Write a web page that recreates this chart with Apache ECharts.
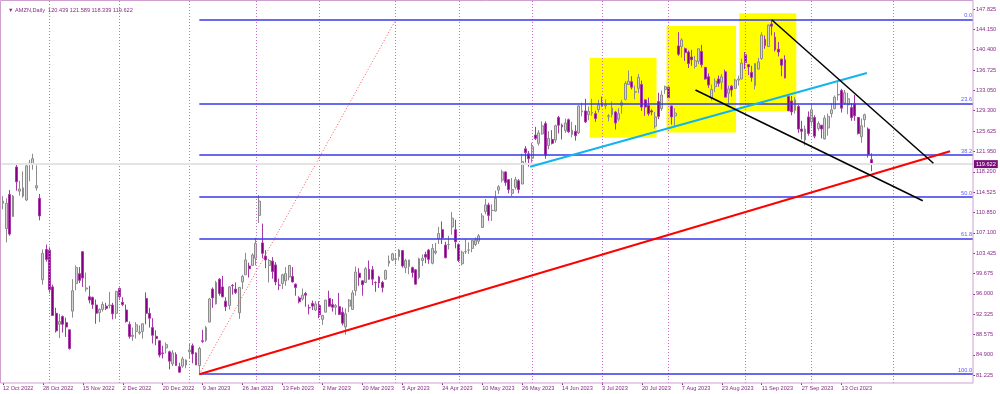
<!DOCTYPE html>
<html><head><meta charset="utf-8">
<script src="https://cdn.jsdelivr.net/npm/echarts@6/dist/echarts.min.js"></script>
<style>html,body{margin:0;padding:0;background:#fff}#c{width:1000px;height:394px}</style>
</head><body><div id="c"></div>
<script>
// ---- tick labels ----
const yLabels = ['81.225','84.900','88.575','92.325','96.000','99.675','103.425','107.100','110.850','114.525','118.200','121.950','125.625','129.300','133.050','136.725','140.400','144.150','147.825'];
const dateLabels = ['12 Oct 2022','28 Oct 2022','15 Nov 2022','2 Dec 2022','20 Dec 2022','9 Jan 2023','26 Jan 2023','13 Feb 2023','2 Mar 2023','20 Mar 2023','5 Apr 2023','24 Apr 2023','10 May 2023','26 May 2023','14 Jun 2023','3 Jul 2023','20 Jul 2023','7 Aug 2023','23 Aug 2023','11 Sep 2023','27 Sep 2023','13 Oct 2023'];

// ---- daily candles [open, high, low, close] ----
const oct22 = [[112.5,113.8,111.4,112.9],[107.9,113.4,105.4,112.5],[114.1,114.9,106.6,106.9],[110.1,114.0,110.0,113.8],[119.1,119.5,114.8,116.4],[114.7,116.6,113.9,115.1],[113.8,118.3,113.5,115.3],[113.1,119.6,112.9,119.3],[119.6,120.4,116.5,119.8],[119.6,121.5,118.6,120.6],[115.3,119.4,114.8,115.7],[113.4,114.2,109.4,110.2],[98.6,104.1,97.7,103.4],[104.1,105.0,101.9,102.3]];
const nov22 = [[104.0,104.6,96.1,96.8],[97.3,97.7,92.0,92.1],[92.5,93.5,89.0,89.3],[90.5,92.4,88.0,91.0],[91.9,92.1,89.0,90.5],[90.8,91.7,88.2,90.0],[89.5,89.5,85.9,86.1],[92.9,98.7,91.7,96.6],[97.9,101.2,96.7,100.8],[99.7,100.9,98.0,98.5],[103.7,103.8,97.3,98.9],[96.9,99.9,96.4,97.1],[95.5,97.5,94.3,94.9],[95.4,95.5,93.3,94.1],[94.0,95.0,90.6,92.5],[92.6,93.4,90.9,93.2],[93.2,94.6,92.8,94.1],[93.8,94.4,93.1,93.4],[93.9,96.4,93.4,94.0],[94.0,94.4,91.4,92.4],[92.5,96.5,91.5,96.5]];
const dec22 = [[97.0,97.2,94.9,95.5],[94.5,95.4,93.8,94.1],[93.1,94.1,90.8,91.0],[90.5,91.0,87.9,88.3],[88.3,89.9,87.5,88.5],[89.2,90.9,87.9,90.4],[88.9,90.3,88.6,89.1],[89.2,90.6,87.9,90.6],[95.2,96.3,90.5,92.5],[92.5,93.5,89.9,91.6],[89.9,91.6,87.0,88.5],[88.3,89.4,86.7,87.9],[87.5,87.6,84.5,84.9],[85.3,86.6,84.3,85.2],[86.2,87.2,85.2,86.8],[85.5,85.7,82.3,83.8],[83.3,85.8,82.9,85.3],[85.0,85.4,83.0,83.0],[82.8,83.5,81.7,81.8],[82.9,84.6,82.6,84.2],[83.1,84.1,82.5,84.0]];
const jan23 = [[85.5,87.0,84.2,85.8],[86.6,87.0,83.4,85.1],[85.3,85.4,83.1,83.1],[83.0,86.4,81.43,86.1],[87.5,89.5,87.1,87.4],[87.6,90.2,87.3,89.9],[90.9,95.3,90.9,95.1],[96.9,97.2,93.5,95.3],[94.2,98.4,94.1,98.1],[98.7,98.9,95.7,96.1],[97.3,99.3,95.4,95.5],[94.7,95.4,92.9,93.7],[93.9,97.4,93.2,97.3],[97.6,97.8,95.9,97.5],[96.9,98.1,96.0,96.3],[92.6,97.2,91.5,97.2],[98.2,99.5,96.9,99.2],[99.5,103.5,99.5,102.2],[101.1,101.7,99.0,100.6],[101.2,103.4,101.1,103.1]];
const feb23 = [[102.5,106.2,101.2,105.2],[110.3,114.0,108.9,112.9],[105.3,108.8,102.5,103.4],[102.9,104.0,100.7,102.2],[101.2,102.4,98.1,102.1],[102.0,102.7,98.8,100.1],[101.3,101.8,97.6,98.2],[97.6,98.8,96.7,97.6],[97.9,99.7,96.9,99.5],[98.4,100.9,97.5,99.7],[99.1,101.2,98.5,101.2],[99.2,100.9,98.1,98.2],[97.8,97.9,95.7,97.2],[95.3,95.6,94.3,94.6],[95.1,97.0,94.8,95.8],[96.1,96.4,93.7,95.8],[93.5,94.1,92.3,93.5],[94.3,94.8,93.1,93.8],[93.1,94.7,92.9,94.2]];
const mar23 = [[93.9,94.7,91.6,92.2],[91.4,92.2,90.4,92.1],[92.7,94.9,92.7,94.9],[95.2,96.6,93.7,93.8],[94.1,95.1,92.8,93.6],[93.6,94.2,92.2,93.9],[93.7,96.2,92.2,92.3],[92.7,93.6,90.3,90.7],[90.0,93.4,88.6,92.4],[93.8,95.1,92.7,94.9],[93.2,96.7,93.1,96.2],[96.6,101.0,95.7,100.0],[99.8,100.7,97.5,99.0],[98.4,98.5,95.7,97.7],[98.1,100.9,98.0,100.6],[100.5,102.1,98.6,98.7],[100.4,101.1,97.6,98.7],[98.1,98.3,96.4,98.1],[99.1,99.3,97.1,98.0],[98.1,98.4,96.3,97.2],[98.7,100.4,98.6,100.3],[101.6,103.0,101.0,102.0],[102.2,103.5,102.0,103.3]];
const apr23 = [[102.3,103.3,101.4,102.4],[102.8,104.2,102.1,104.0],[103.9,103.9,100.8,101.1],[100.8,102.4,99.8,102.1],[101.0,102.2,99.6,102.2],[100.8,101.0,99.0,99.9],[100.4,100.5,97.7,97.8],[99.0,102.6,98.7,102.4],[102.1,103.2,101.1,102.5],[103.2,103.7,101.6,102.7],[104.0,104.2,101.5,102.3],[101.6,105.1,101.4,104.3],[103.5,105.3,103.2,103.8],[106.1,108.2,105.1,107.0],[107.7,109.2,105.1,106.2],[104.9,105.5,102.5,102.6],[105.0,106.6,104.1,105.0],[108.2,110.9,106.8,109.8],[107.7,109.5,104.3,105.5]];
const may23 = [[105.0,105.2,101.8,102.1],[101.5,103.9,101.2,103.6],[103.7,106.0,103.3,103.7],[104.0,105.4,103.3,104.0],[104.3,105.8,103.6,105.7],[105.0,106.3,104.7,105.8],[105.6,106.9,105.1,106.6],[108.1,110.7,108.1,110.2],[111.0,113.3,110.5,112.2],[112.2,112.6,109.3,110.3],[111.2,112.3,109.3,111.2],[111.1,114.8,111.0,113.4],[114.9,115.8,114.2,115.5],[116.7,118.6,116.3,118.2],[118.2,118.3,115.7,116.3],[116.8,116.8,114.3,115.0],[114.3,117.1,113.8,115.0],[115.4,117.3,115.0,116.8],[116.6,116.9,114.3,115.0],[116.0,121.5,116.0,120.1],[122.4,122.9,119.9,121.7],[121.5,122.0,119.17,120.6]];
const jun23 = [[120.7,123.5,119.9,122.8],[124.9,126.4,124.0,124.3],[123.4,125.8,123.0,125.3],[125.1,127.4,125.0,126.6],[127.0,127.4,120.6,121.2],[123.0,125.6,122.3,124.3],[124.1,125.8,123.2,123.4],[124.0,126.8,123.5,126.6],[128.1,128.4,125.2,126.7],[126.7,127.0,124.1,126.4],[125.7,127.9,125.3,127.1],[127.7,127.9,125.3,125.5],[125.0,127.3,124.5,125.8],[125.6,126.7,123.9,124.8],[125.3,130.3,125.1,130.2],[129.1,130.8,128.3,129.3],[129.3,131.5,127.1,127.3],[128.6,130.1,127.6,129.2],[128.9,131.5,128.4,129.0],[128.8,129.3,127.3,127.9],[129.5,131.3,129.0,130.4]];
const jul23 = [[130.8,131.9,130.1,130.2],[130.2,131.4,129.6,130.4],[128.3,128.7,127.4,128.4],[128.6,131.0,128.1,129.8],[129.1,129.3,125.9,127.1],[127.8,129.8,127.4,128.8],[130.3,131.3,128.8,130.8],[131.4,134.7,131.2,134.3],[134.1,136.65,134.1,134.7],[134.6,135.6,133.2,133.6],[132.7,133.9,131.4,132.8],[133.4,136.0,132.5,135.4],[134.1,134.8,129.3,130.0],[131.3,131.4,128.4,130.0],[130.3,131.7,128.4,128.8],[129.3,129.6,128.5,129.1],[126.5,129.1,126.1,128.2],[131.0,132.6,127.8,128.3],[129.7,133.0,129.3,132.2],[133.2,133.9,132.4,133.7]];
const aug23 = [[133.6,133.7,131.6,131.7],[130.2,130.2,126.8,128.2],[128.4,129.8,126.4,128.9],[141.1,143.6,139.3,139.6],[141.0,142.5,139.0,142.2],[140.6,140.8,138.4,139.9],[140.0,140.3,137.1,137.9],[139.1,140.4,137.5,138.6],[137.4,139.3,137.0,138.4],[138.3,140.6,137.8,140.6],[140.1,141.3,137.2,137.7],[137.2,137.3,135.0,135.1],[135.5,136.1,133.5,134.0],[131.6,134.1,131.2,133.2],[133.7,135.2,132.7,134.7],[135.1,135.7,133.7,134.3],[134.5,136.0,133.2,135.5],[136.4,136.8,131.8,131.8],[132.5,133.9,130.6,133.3],[133.8,134.0,131.9,133.1],[133.4,135.1,133.3,134.9],[134.9,135.7,133.9,135.1],[135.1,138.8,135.0,138.0]];
const sep23 = [[139.5,140.0,136.9,138.1],[137.7,137.8,135.8,137.3],[136.3,137.5,134.6,135.4],[133.9,138.0,133.2,137.9],[136.9,138.9,136.8,138.2],[138.8,143.6,138.6,143.1],[142.3,143.0,140.6,141.2],[141.0,145.0,140.9,144.9],[145.1,145.86,143.0,144.7],[142.7,143.6,140.1,140.4],[140.5,141.8,139.2,140.0],[138.7,138.8,135.6,137.6],[138.6,139.4,135.2,135.3],[131.9,132.2,129.3,129.3],[131.1,132.0,128.5,129.1],[129.4,131.8,128.8,131.3],[130.1,130.4,125.3,126.0],[126.0,127.5,124.1,125.6],[124.0,126.6,123.0,126.0],[128.2,129.2,124.8,125.2]];
const oct23 = [[127.3,130.5,126.5,129.5],[128.1,128.5,124.3,124.7],[126.1,127.4,125.7,127.0],[126.7,126.7,124.3,126.0],[124.2,128.5,124.1,128.0],[126.2,128.8,124.8,128.3],[128.8,130.7,128.1,129.5],[129.7,132.1,129.6,131.8],[132.2,134.5,131.2,132.3],[133.0,133.3,129.0,129.8],[130.7,133.1,130.4,132.6],[130.4,132.6,128.7,131.5],[129.9,130.7,127.5,128.1],[130.6,132.2,127.5,128.4],[128.1,128.2,125.0,125.2],[124.6,127.9,123.5,126.6],[127.7,128.8,126.3,128.6],[126.0,126.3,120.8,121.4],[120.439,121.589,118.339,119.622]];

// ---- annotations (in bar index / price units) ----
const fibHigh = 145.86, fibLow = 81.43;
const fibRatios = [0, 23.6, 38.2, 50.0, 61.8, 100.0];
const fibStartBar = 59, fibEndBar = 118;
const monthStartBars = [14, 35, 56, 76, 95, 118, 137, 159, 180, 200, 223, 243, 267.5];
const redTrend = [[59, 81.43], [284.6, 121.95]];
const cyanTrend = [[158.4, 119.15], [259.6, 136.2]];
const blackUpper = [[231, 145.86], [279.6, 119.77]];
const blackLower = [[208.1, 133.1], [276.4, 112.97]];
const boxes = [[176.3, 196.4, 138.97, 124.43], [199.4, 220.3, 144.73, 125.37], [221.3, 238.4, 147.04, 129.28]];
const lastPrice = 119.622;

// price scale: labelled range 81.225 .. 147.825 in steps of 3.7
const priceTop = 149.461, priceBottom = 79.825, labelBase = 81.225, labelTop = 147.825, labelStep = 3.7;

const NSLOTS = 292;
const rows = [].concat(oct22, nov22, dec22, jan23, feb23, mar23, apr23, may23, jun23, jul23, aug23, sep23, oct23);
const candleData = rows.map(r => [r[0], r[3], r[2], r[1]]);
const cats = [];
for (let i = 0; i < NSLOTS; i++) cats.push(String(i));

const H = 394, plotBottom = 383, pxPerUnit = plotBottom / (priceTop - priceBottom);
const labelGridTop = (priceTop - labelTop) * pxPerUnit;
const labelGridBottom = H - (plotBottom - (labelBase - priceBottom) * pxPerUnit);

const purple = '#8a2a8a';
const fs = 5.6;
const font = 'Liberation Sans';

const chart = echarts.init(document.getElementById('c'), null, {renderer: 'canvas'});
chart.setOption({
  animation: false,
  backgroundColor: '#ffffff',
  textStyle: {fontFamily: font},
  title: {text: '\u25BC AMZN,Daily  120.439 121.589 118.339 119.622', left: 3, top: 2,
    textStyle: {fontSize: fs, color: purple, fontWeight: 'normal', fontFamily: font}},
  grid: [
    {left: 0, right: 27, top: 0, bottom: H - plotBottom, containLabel: false},
    {left: 972, right: 27, top: labelGridTop, bottom: labelGridBottom, containLabel: false}
  ],
  xAxis: [{
    type: 'category', data: cats, boundaryGap: true, gridIndex: 0,
    axisLine: {show: false, onZero: false},
    axisTick: {show: true, alignWithLabel: true, length: 2, lineStyle: {color: purple},
      interval: (i) => i % 12 === 0 && i <= 252},
    axisLabel: {show: true, fontSize: fs, color: purple, align: 'left', margin: 2, fontFamily: font,
      interval: (i) => i % 12 === 0 && i <= 252,
      formatter: (v, i) => (i % 12 === 0 && i <= 252) ? dateLabels[i / 12] : ''},
    splitLine: {show: false}
  }, {
    type: 'value', min: -0.5, max: NSLOTS - 0.5, show: false, gridIndex: 0, axisLine: {onZero: false}
  }, {
    type: 'value', min: 0, max: 1, show: false, gridIndex: 1, axisLine: {onZero: false}
  }],
  yAxis: [{
    type: 'value', min: priceBottom, max: priceTop, show: false, scale: true, gridIndex: 0, axisLine: {onZero: false}
  }, {
    type: 'value', gridIndex: 1, position: 'right', min: 0, max: labelTop - labelBase, interval: labelStep,
    axisLine: {show: false, onZero: false},
    axisTick: {show: true, length: 2, lineStyle: {color: purple}},
    splitLine: {show: false},
    axisLabel: {fontSize: fs, color: purple, margin: 3, fontFamily: font,
      formatter: (v) => {
        const k = Math.round(v / labelStep);
        if (Math.abs(v - k * labelStep) > 0.01 || k < 0 || k >= yLabels.length) return '';
        return yLabels[k];
      }}
  }],
  graphic: [{
    type: 'rect', z: 100, silent: true,
    shape: {x: 0.5, y: 0.5, width: 972.5, height: 382.5},
    style: {stroke: '#cf9fcf', fill: null, lineWidth: 1}
  }],
  series: [
    {type: 'line', xAxisIndex: 2, yAxisIndex: 1, data: [], silent: true},
    { // yellow boxes + separators + bid line
      type: 'line', xAxisIndex: 1, yAxisIndex: 0, data: [], z: 1, silent: true,
      markArea: {silent: true, itemStyle: {color: '#ffff00', opacity: 1},
        data: boxes.map(b => [{coord: [b[0], b[2]]}, {coord: [b[1], b[3]]}])},
      markLine: {silent: true, symbol: 'none',
        data: monthStartBars.map(x => ({xAxis: x, lineStyle: {color: '#c86ec8', type: [1, 2], width: 1}, label: {show: false}}))
          .concat([{yAxis: lastPrice, lineStyle: {color: '#e4e4e4', type: 'solid', width: 2},
            label: {show: true, position: 'end', distance: 1, formatter: '119.622', fontSize: fs, color: '#ffffff',
              backgroundColor: '#7a0f7a', padding: [1, 2, 1, 2], fontFamily: font}}])}
    },
    {
      type: 'candlestick', xAxisIndex: 0, yAxisIndex: 0, data: candleData, z: 3, barWidth: 2.4,
      itemStyle: {color: '#d4d4d4', color0: '#800080', borderColor: '#8c8c8c', borderColor0: '#a838a8', borderWidth: 1}
    },
    { // fibonacci tool
      type: 'line', xAxisIndex: 1, yAxisIndex: 0, z: 4, symbol: 'none', silent: true,
      data: [[fibStartBar, fibLow], [fibEndBar, fibHigh]],
      lineStyle: {color: '#ff5555', width: 1, type: [1, 2]},
      markLine: {silent: true, symbol: 'none',
        lineStyle: {color: '#3838e8', width: 1.5, type: 'solid'},
        label: {show: true, position: 'insideEndTop', distance: 1, fontSize: fs, color: '#5a5aff', fontFamily: font},
        data: fibRatios.map(r => [
          {coord: [fibStartBar, fibHigh - (fibHigh - fibLow) * r / 100], label: {formatter: r.toFixed(1)}},
          {coord: [NSLOTS - 0.5, fibHigh - (fibHigh - fibLow) * r / 100]}
        ])}
    },
    {type: 'line', xAxisIndex: 1, yAxisIndex: 0, z: 5, symbol: 'none', silent: true, data: redTrend,
      lineStyle: {color: '#ff0000', width: 2}},
    {type: 'line', xAxisIndex: 1, yAxisIndex: 0, z: 5, symbol: 'none', silent: true, data: cyanTrend,
      lineStyle: {color: '#12b4f0', width: 2}},
    {type: 'line', xAxisIndex: 1, yAxisIndex: 0, z: 5, symbol: 'none', silent: true, data: blackUpper,
      lineStyle: {color: '#000000', width: 1.5}},
    {type: 'line', xAxisIndex: 1, yAxisIndex: 0, z: 5, symbol: 'none', silent: true, data: blackLower,
      lineStyle: {color: '#000000', width: 1.5}}
  ]
});
</script></body></html>
